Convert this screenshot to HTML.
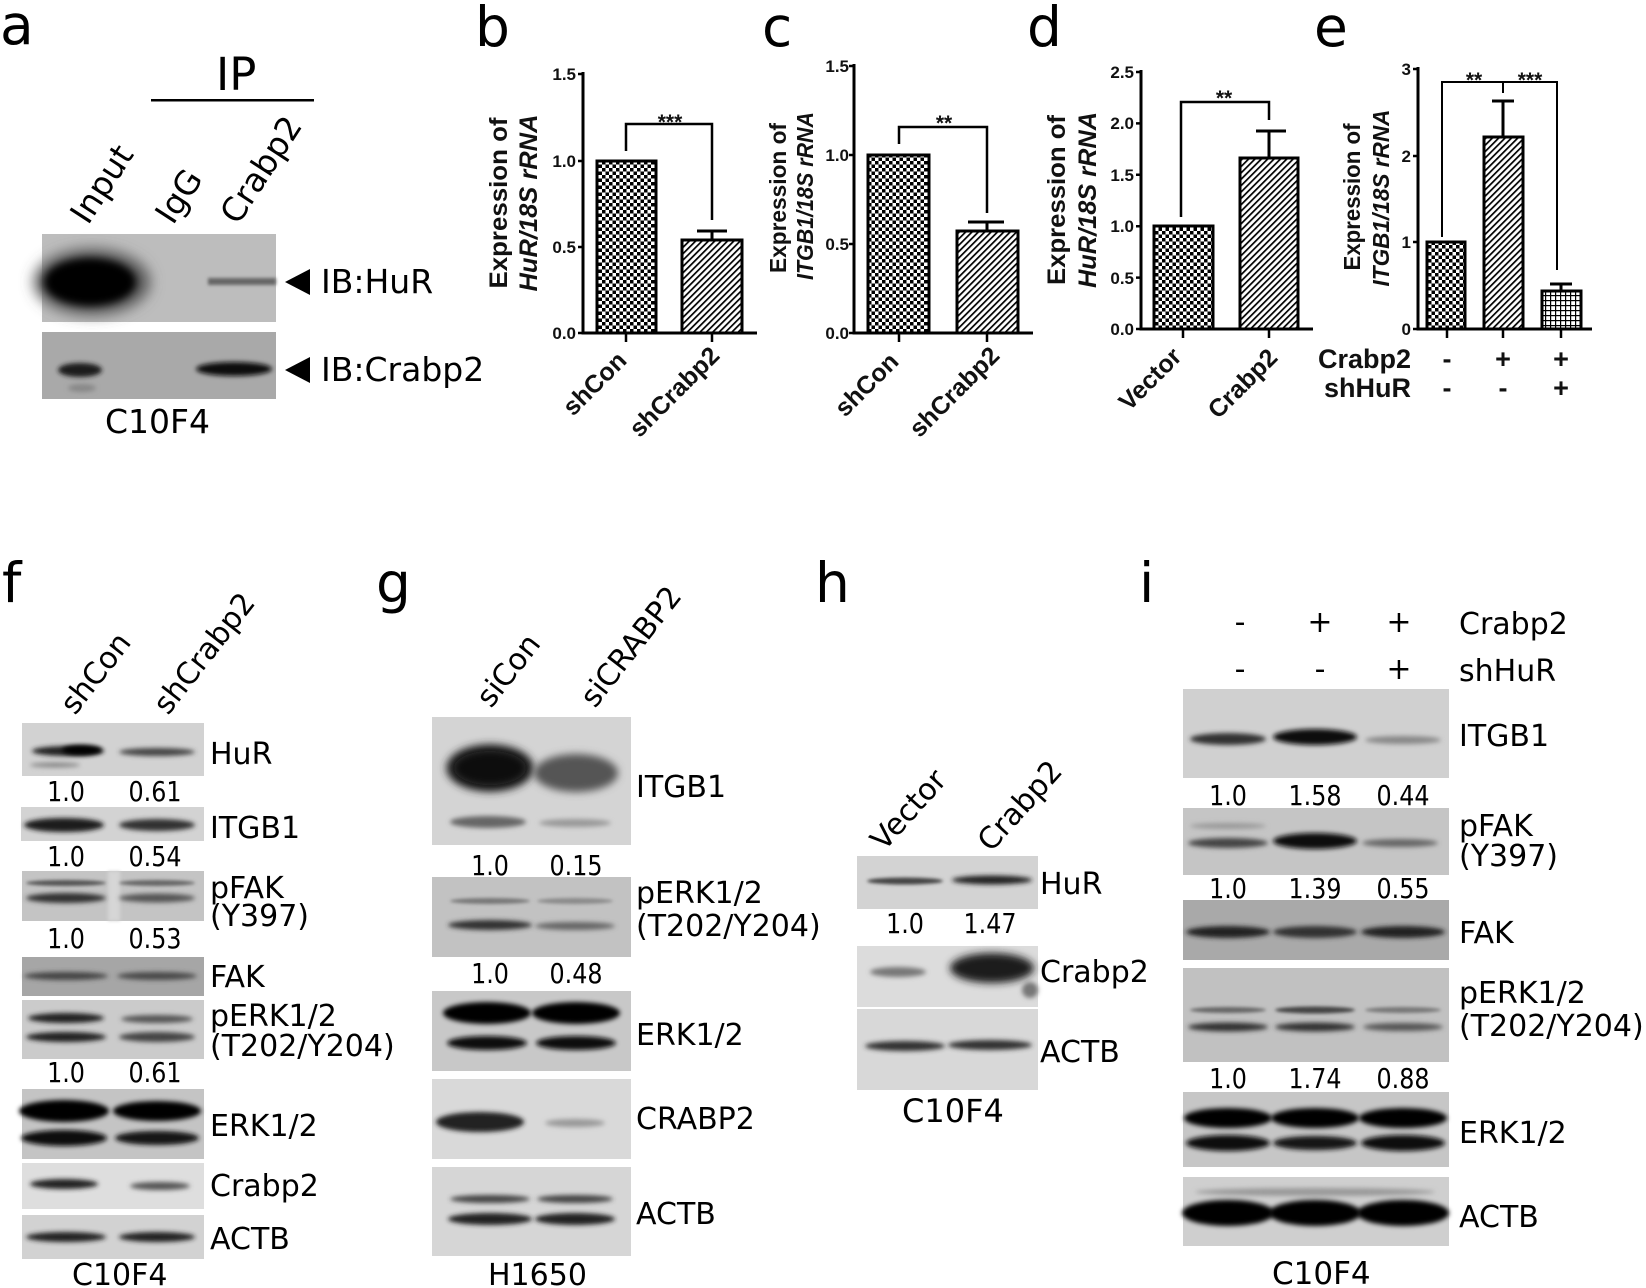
<!DOCTYPE html>
<html><head><meta charset="utf-8"><style>
html,body{margin:0;padding:0;background:#fff;}
svg{display:block;}
.L{font-family:"DejaVu Sans","Liberation Sans",sans-serif;fill:#000;}
.C{font-family:"Liberation Sans",Arial,sans-serif;font-weight:bold;fill:#111;}
</style></head><body>
<svg width="1646" height="1288" viewBox="0 0 1646 1288" xmlns="http://www.w3.org/2000/svg">
<defs>
<pattern id="chk" width="7" height="7" patternUnits="userSpaceOnUse"><rect width="7" height="7" fill="#fff"/><rect width="3.5" height="3.5" fill="#000"/><rect x="3.5" y="3.5" width="3.5" height="3.5" fill="#000"/></pattern>
<pattern id="hat" width="4.5" height="4.5" patternUnits="userSpaceOnUse" patternTransform="rotate(45)"><rect width="4.5" height="4.5" fill="#fff"/><rect width="1.7" height="4.5" fill="#000"/></pattern>
<pattern id="grd" width="5" height="5" patternUnits="userSpaceOnUse"><rect width="5" height="5" fill="#fff"/><rect width="1.2" height="5" fill="#000"/><rect width="5" height="1.2" fill="#000"/></pattern>
<filter id="g1" x="-50%" y="-200%" width="200%" height="500%"><feGaussianBlur stdDeviation="1.5"/></filter>
<filter id="g2" x="-50%" y="-200%" width="200%" height="500%"><feGaussianBlur stdDeviation="2.5"/></filter>
<filter id="g4" x="-50%" y="-100%" width="200%" height="300%"><feGaussianBlur stdDeviation="4"/></filter>
<filter id="g7" x="-50%" y="-100%" width="200%" height="300%"><feGaussianBlur stdDeviation="7"/></filter>
</defs>

<!-- panel letters -->
<g class="L" font-size="55">
<text x="0" y="44">a</text><text x="475" y="46">b</text><text x="762" y="46">c</text><text x="1027" y="46">d</text><text x="1314" y="46">e</text>
<text x="2" y="602">f</text><text x="376" y="602">g</text><text x="815" y="602">h</text><text x="1139" y="602">i</text>
</g>

<!-- ===== panel a ===== -->
<g class="L">
<text x="216" y="90" font-size="45">IP</text>
<rect x="151" y="99" width="163" height="2.5" fill="#000"/>
<text font-size="33" transform="translate(88,226) rotate(-57)">Input</text>
<text font-size="33" transform="translate(173,226) rotate(-57)">IgG</text>
<text font-size="33" transform="translate(238,226) rotate(-57)">Crabp2</text>
</g>
<rect x="42" y="234" width="234" height="88" fill="#bdbdbd"/>
<ellipse cx="92" cy="282" rx="58" ry="33" fill="#555" filter="url(#g7)"/>
<ellipse cx="90" cy="282" rx="46" ry="24" fill="#000" filter="url(#g4)"/>
<rect x="208" y="278" width="68" height="7" fill="#666" filter="url(#g1)"/>
<rect x="42" y="332" width="234" height="67" fill="#a9a9a9"/>
<ellipse cx="80" cy="370" rx="22" ry="7" fill="#1a1a1a" filter="url(#g2)"/>
<ellipse cx="82" cy="388" rx="14" ry="4" fill="#888" filter="url(#g2)"/>
<ellipse cx="234" cy="369" rx="38" ry="7" fill="#0a0a0a" filter="url(#g2)"/>
<polygon points="285,282 310,269 310,295" fill="#000"/>
<polygon points="285,370 310,357 310,383" fill="#000"/>
<g class="L" font-size="33">
<text x="321" y="293">IB:HuR</text>
<text x="321" y="381">IB:Crabp2</text>
<text x="105" y="433">C10F4</text>
</g>

<!-- ===== panel b ===== -->
<g stroke="#000" fill="none">
<rect x="597" y="161" width="59" height="172" fill="url(#chk)" stroke-width="3"/>
<rect x="682" y="240" width="60" height="93" fill="url(#hat)" stroke-width="3"/>
<path d="M712 240V231M697 231H727" stroke-width="3"/>
<path d="M583 72V333H757" stroke-width="3"/>
<path d="M578 74H583M578 161H583M578 247H583M578 333H583M626 333V342M712 333V342" stroke-width="2.5"/>
<path d="M626 151V124H712V220" stroke-width="2.5"/>
</g>
<g class="C" font-size="17" text-anchor="end">
<text x="576" y="80">1.5</text><text x="576" y="167">1.0</text><text x="576" y="253">0.5</text><text x="576" y="339">0.0</text>
</g>
<text class="C" x="670" y="129" font-size="21" font-weight="normal" text-anchor="middle">***</text>
<text class="C" font-size="25" text-anchor="middle" textLength="171" lengthAdjust="spacingAndGlyphs" transform="translate(507,203) rotate(-90)">Expression of</text>
<text class="C" font-size="25" font-style="italic" text-anchor="middle" textLength="177" lengthAdjust="spacingAndGlyphs" transform="translate(537,203) rotate(-90)">HuR/18S rRNA</text>
<text class="C" font-size="25" text-anchor="end" transform="translate(628,362) rotate(-45)">shCon</text>
<text class="C" font-size="25" text-anchor="end" transform="translate(721,357) rotate(-45)">shCrabp2</text>

<!-- ===== panel c ===== -->
<g stroke="#000" fill="none">
<rect x="868" y="155" width="61" height="178" fill="url(#chk)" stroke-width="3"/>
<rect x="957" y="231" width="61" height="102" fill="url(#hat)" stroke-width="3"/>
<path d="M987 231V222M968 222H1004" stroke-width="3"/>
<path d="M854 64V333H1033" stroke-width="3"/>
<path d="M849 66H854M849 155H854M849 244H854M849 333H854M899 333V342M987 333V342" stroke-width="2.5"/>
<path d="M899 144V127H987V213" stroke-width="2.5"/>
</g>
<g class="C" font-size="17" text-anchor="end">
<text x="849" y="72">1.5</text><text x="849" y="161">1.0</text><text x="849" y="250">0.5</text><text x="849" y="339">0.0</text>
</g>
<text class="C" x="944" y="130" font-size="21" font-weight="normal" text-anchor="middle">**</text>
<text class="C" font-size="23" text-anchor="middle" textLength="150" lengthAdjust="spacingAndGlyphs" transform="translate(786,198) rotate(-90)">Expression of</text>
<text class="C" font-size="23" font-style="italic" text-anchor="middle" textLength="168" lengthAdjust="spacingAndGlyphs" transform="translate(813,196) rotate(-90)">ITGB1/18S rRNA</text>
<text class="C" font-size="25" text-anchor="end" transform="translate(900,363) rotate(-45)">shCon</text>
<text class="C" font-size="25" text-anchor="end" transform="translate(1001,357) rotate(-45)">shCrabp2</text>

<!-- ===== panel d ===== -->
<g stroke="#000" fill="none">
<rect x="1154" y="226" width="59" height="103" fill="url(#chk)" stroke-width="3"/>
<rect x="1240" y="158" width="58" height="171" fill="url(#hat)" stroke-width="3"/>
<path d="M1269 158V131M1256 131H1286" stroke-width="3"/>
<path d="M1141 70V329H1313" stroke-width="3"/>
<path d="M1136 72H1141M1136 123.4H1141M1136 174.8H1141M1136 226.2H1141M1136 277.6H1141M1136 329H1141M1183 329V338M1269 329V338" stroke-width="2.5"/>
<path d="M1181 217V102H1269V120" stroke-width="2.5"/>
</g>
<g class="C" font-size="17" text-anchor="end">
<text x="1134" y="78">2.5</text><text x="1134" y="129">2.0</text><text x="1134" y="181">1.5</text><text x="1134" y="232">1.0</text><text x="1134" y="284">0.5</text><text x="1134" y="335">0.0</text>
</g>
<text class="C" x="1224" y="105" font-size="21" font-weight="normal" text-anchor="middle">**</text>
<text class="C" font-size="25" text-anchor="middle" textLength="170" lengthAdjust="spacingAndGlyphs" transform="translate(1065,200) rotate(-90)">Expression of</text>
<text class="C" font-size="25" font-style="italic" text-anchor="middle" textLength="176" lengthAdjust="spacingAndGlyphs" transform="translate(1096,200) rotate(-90)">HuR/18S rRNA</text>
<text class="C" font-size="25" text-anchor="end" transform="translate(1183,358) rotate(-45)">Vector</text>
<text class="C" font-size="25" text-anchor="end" transform="translate(1279,359) rotate(-45)">Crabp2</text>

<!-- ===== panel e ===== -->
<g stroke="#000" fill="none">
<rect x="1427" y="242" width="38" height="87" fill="url(#chk)" stroke-width="3"/>
<rect x="1484" y="137" width="39" height="192" fill="url(#hat)" stroke-width="3"/>
<rect x="1542" y="291" width="39" height="38" fill="url(#grd)" stroke-width="3"/>
<path d="M1503 137V101M1492 101H1514M1561 291V284M1550 284H1572" stroke-width="3"/>
<path d="M1418 67V329H1592" stroke-width="3"/>
<path d="M1413 69H1418M1413 156H1418M1413 242H1418M1413 329H1418M1447 329V338M1503 329V338M1561 329V338" stroke-width="2.5"/>
<path d="M1442 237V82H1557V270M1503 82V93" stroke-width="2"/>
</g>
<g class="C" font-size="17" text-anchor="end">
<text x="1411" y="75">3</text><text x="1411" y="162">2</text><text x="1411" y="248">1</text><text x="1411" y="335">0</text>
</g>
<text class="C" x="1474" y="87" font-size="21" font-weight="normal" text-anchor="middle">**</text>
<text class="C" x="1530" y="87" font-size="21" font-weight="normal" text-anchor="middle">***</text>
<text class="C" font-size="23" text-anchor="middle" textLength="147" lengthAdjust="spacingAndGlyphs" transform="translate(1360,197) rotate(-90)">Expression of</text>
<text class="C" font-size="23" font-style="italic" text-anchor="middle" textLength="177" lengthAdjust="spacingAndGlyphs" transform="translate(1389,198) rotate(-90)">ITGB1/18S rRNA</text>
<g class="C" font-size="27">
<text x="1411" y="368" text-anchor="end">Crabp2</text>
<text x="1411" y="397" text-anchor="end">shHuR</text>
<g text-anchor="middle">
<text x="1447" y="368">-</text><text x="1503" y="368">+</text><text x="1561" y="368">+</text>
<text x="1447" y="397">-</text><text x="1503" y="397">-</text><text x="1561" y="397">+</text>
</g>
</g>

<!-- ===== panel f ===== -->
<g class="L" font-size="30">
<text transform="translate(75,716) rotate(-52)">shCon</text>
<text transform="translate(168,716) rotate(-52)">shCrabp2</text>
</g>
<rect x="22" y="723" width="182" height="53" fill="#d2d2d2"/>
<ellipse cx="68" cy="751" rx="36" ry="5" fill="#222" filter="url(#g2)"/>
<ellipse cx="82" cy="750" rx="20" ry="5" fill="#000" filter="url(#g2)"/>
<ellipse cx="157" cy="752" rx="38" ry="4" fill="#444" filter="url(#g2)"/>
<ellipse cx="55" cy="765" rx="25" ry="2.5" fill="#888" filter="url(#g2)"/>
<rect x="21" y="807" width="183" height="34" fill="#d3d3d3"/>
<ellipse cx="64" cy="825" rx="40" ry="7" fill="#1a1a1a" filter="url(#g2)"/>
<ellipse cx="157" cy="825" rx="38" ry="6" fill="#333" filter="url(#g2)"/>
<rect x="22" y="871" width="182" height="50" fill="#c4c4c4"/>
<rect x="108" y="871" width="12" height="50" fill="#d6d6d6" filter="url(#g1)"/>
<ellipse cx="66" cy="883" rx="40" ry="3" fill="#555" filter="url(#g1)"/>
<ellipse cx="66" cy="898" rx="40" ry="5" fill="#333" filter="url(#g2)"/>
<ellipse cx="157" cy="883" rx="38" ry="3" fill="#666" filter="url(#g1)"/>
<ellipse cx="157" cy="898" rx="38" ry="4.5" fill="#555" filter="url(#g2)"/>
<rect x="22" y="957" width="182" height="39" fill="#a6a6a6"/>
<ellipse cx="66" cy="976" rx="42" ry="4" fill="#444" filter="url(#g2)"/>
<ellipse cx="157" cy="976" rx="40" ry="4" fill="#4a4a4a" filter="url(#g2)"/>
<rect x="22" y="1000" width="182" height="59" fill="#cbcbcb"/>
<ellipse cx="66" cy="1018" rx="38" ry="5" fill="#222" filter="url(#g2)"/>
<ellipse cx="66" cy="1037" rx="40" ry="5" fill="#222" filter="url(#g2)"/>
<ellipse cx="157" cy="1019" rx="36" ry="4" fill="#555" filter="url(#g2)"/>
<ellipse cx="157" cy="1037" rx="38" ry="5" fill="#444" filter="url(#g2)"/>
<rect x="22" y="1089" width="182" height="70" fill="#c4c4c4"/>
<ellipse cx="64" cy="1111" rx="45" ry="11" fill="#000" filter="url(#g2)"/>
<ellipse cx="64" cy="1138" rx="43" ry="8" fill="#111" filter="url(#g2)"/>
<ellipse cx="157" cy="1111" rx="44" ry="10" fill="#000" filter="url(#g2)"/>
<ellipse cx="157" cy="1138" rx="42" ry="7" fill="#151515" filter="url(#g2)"/>
<rect x="22" y="1163" width="182" height="46" fill="#dedede"/>
<ellipse cx="64" cy="1184" rx="34" ry="5" fill="#222" filter="url(#g2)"/>
<ellipse cx="160" cy="1186" rx="30" ry="4" fill="#555" filter="url(#g2)"/>
<rect x="22" y="1215" width="182" height="44" fill="#d2d2d2"/>
<ellipse cx="66" cy="1237" rx="40" ry="5" fill="#222" filter="url(#g2)"/>
<ellipse cx="157" cy="1237" rx="38" ry="5" fill="#222" filter="url(#g2)"/>
<g class="L" font-size="30">
<text x="210" y="764">HuR</text>
<text x="210" y="838">ITGB1</text>
<text x="210" y="898">pFAK</text>
<text x="210" y="926">(Y397)</text>
<text x="210" y="987">FAK</text>
<text x="210" y="1026">pERK1/2</text>
<text x="210" y="1056">(T202/Y204)</text>
<text x="210" y="1136">ERK1/2</text>
<text x="210" y="1196">Crabp2</text>
<text x="210" y="1249">ACTB</text>
<text x="72" y="1285">C10F4</text>
</g>
<g class="L" font-size="28" text-anchor="middle">
<text transform="translate(66,801) scale(0.85,1)">1.0</text><text transform="translate(155,801) scale(0.85,1)">0.61</text>
<text transform="translate(66,866) scale(0.85,1)">1.0</text><text transform="translate(155,866) scale(0.85,1)">0.54</text>
<text transform="translate(66,948) scale(0.85,1)">1.0</text><text transform="translate(155,948) scale(0.85,1)">0.53</text>
<text transform="translate(66,1082) scale(0.85,1)">1.0</text><text transform="translate(155,1082) scale(0.85,1)">0.61</text>
</g>

<!-- ===== panel g ===== -->
<g class="L" font-size="30">
<text transform="translate(491,709) rotate(-52)">siCon</text>
<text transform="translate(595,709) rotate(-52)">siCRABP2</text>
</g>
<rect x="432" y="717" width="199" height="128" fill="#d4d4d4"/>
<ellipse cx="490" cy="768" rx="44" ry="24" fill="#2a2a2a" filter="url(#g4)"/>
<ellipse cx="490" cy="768" rx="36" ry="17" fill="#111" filter="url(#g4)"/>
<ellipse cx="576" cy="773" rx="42" ry="19" fill="#555" filter="url(#g4)"/>
<ellipse cx="488" cy="822" rx="38" ry="6" fill="#666" filter="url(#g2)"/>
<ellipse cx="575" cy="823" rx="36" ry="4" fill="#999" filter="url(#g2)"/>
<rect x="432" y="877" width="199" height="80" fill="#c2c2c2"/>
<ellipse cx="490" cy="901" rx="40" ry="3" fill="#777" filter="url(#g1)"/>
<ellipse cx="575" cy="901" rx="38" ry="3" fill="#8a8a8a" filter="url(#g1)"/>
<ellipse cx="490" cy="925" rx="42" ry="5" fill="#333" filter="url(#g2)"/>
<ellipse cx="575" cy="926" rx="40" ry="4" fill="#666" filter="url(#g2)"/>
<rect x="432" y="991" width="199" height="80" fill="#c8c8c8"/>
<ellipse cx="487" cy="1013" rx="44" ry="11" fill="#000" filter="url(#g2)"/>
<ellipse cx="576" cy="1013" rx="44" ry="11" fill="#000" filter="url(#g2)"/>
<ellipse cx="487" cy="1043" rx="40" ry="7" fill="#111" filter="url(#g2)"/>
<ellipse cx="576" cy="1043" rx="40" ry="7" fill="#111" filter="url(#g2)"/>
<rect x="432" y="1079" width="199" height="80" fill="#d9d9d9"/>
<ellipse cx="480" cy="1122" rx="44" ry="10" fill="#222" filter="url(#g2)"/>
<ellipse cx="575" cy="1123" rx="30" ry="4" fill="#999" filter="url(#g2)"/>
<rect x="432" y="1167" width="199" height="89" fill="#d6d6d6"/>
<ellipse cx="490" cy="1199" rx="40" ry="4" fill="#444" filter="url(#g2)"/>
<ellipse cx="575" cy="1199" rx="38" ry="4" fill="#444" filter="url(#g2)"/>
<ellipse cx="490" cy="1219" rx="42" ry="6" fill="#222" filter="url(#g2)"/>
<ellipse cx="575" cy="1219" rx="40" ry="6" fill="#222" filter="url(#g2)"/>
<g class="L" font-size="30">
<text x="636" y="797">ITGB1</text>
<text x="636" y="903">pERK1/2</text>
<text x="636" y="936">(T202/Y204)</text>
<text x="636" y="1045">ERK1/2</text>
<text x="636" y="1129">CRABP2</text>
<text x="636" y="1224">ACTB</text>
<text x="488" y="1285">H1650</text>
</g>
<g class="L" font-size="28" text-anchor="middle">
<text transform="translate(490,875) scale(0.85,1)">1.0</text><text transform="translate(576,875) scale(0.85,1)">0.15</text>
<text transform="translate(490,983) scale(0.85,1)">1.0</text><text transform="translate(576,983) scale(0.85,1)">0.48</text>
</g>

<!-- ===== panel h ===== -->
<g class="L" font-size="30">
<text transform="translate(884,852) rotate(-48)">Vector</text>
<text transform="translate(991,853) rotate(-48)">Crabp2</text>
</g>
<rect x="857" y="856" width="181" height="53" fill="#d3d3d3"/>
<ellipse cx="905" cy="881" rx="38" ry="3.5" fill="#444" filter="url(#g1)"/>
<ellipse cx="992" cy="880" rx="40" ry="4.5" fill="#222" filter="url(#g2)"/>
<rect x="857" y="946" width="181" height="61" fill="#dcdcdc"/>
<ellipse cx="898" cy="972" rx="28" ry="5" fill="#777" filter="url(#g2)"/>
<ellipse cx="992" cy="968" rx="42" ry="15" fill="#1a1a1a" filter="url(#g4)"/>
<ellipse cx="1030" cy="990" rx="8" ry="8" fill="#777" filter="url(#g2)"/>
<rect x="857" y="1009" width="181" height="81" fill="#d8d8d8"/>
<ellipse cx="905" cy="1046" rx="40" ry="5" fill="#333" filter="url(#g2)"/>
<ellipse cx="990" cy="1045" rx="42" ry="5" fill="#333" filter="url(#g2)"/>
<g class="L" font-size="30">
<text x="1040" y="894">HuR</text>
<text x="1040" y="982">Crabp2</text>
<text x="1040" y="1062">ACTB</text>
<text x="902" y="1122" font-size="32">C10F4</text>
</g>
<g class="L" font-size="28" text-anchor="middle">
<text transform="translate(905,933) scale(0.85,1)">1.0</text><text transform="translate(990,933) scale(0.85,1)">1.47</text>
</g>

<!-- ===== panel i ===== -->
<g class="L" font-size="30" text-anchor="middle">
<text x="1240" y="632">-</text><text x="1320" y="632">+</text><text x="1399" y="632">+</text>
<text x="1240" y="679">-</text><text x="1320" y="679">-</text><text x="1399" y="679">+</text>
</g>
<rect x="1183" y="689" width="266" height="89" fill="#d0d0d0"/>
<ellipse cx="1228" cy="739" rx="38" ry="6" fill="#333" filter="url(#g2)"/>
<ellipse cx="1315" cy="737" rx="42" ry="8" fill="#111" filter="url(#g2)"/>
<ellipse cx="1403" cy="740" rx="38" ry="4" fill="#888" filter="url(#g2)"/>
<rect x="1183" y="808" width="266" height="67" fill="#c5c5c5"/>
<ellipse cx="1228" cy="826" rx="38" ry="3" fill="#999" filter="url(#g2)"/>
<ellipse cx="1228" cy="843" rx="40" ry="5" fill="#444" filter="url(#g2)"/>
<ellipse cx="1315" cy="841" rx="42" ry="8" fill="#111" filter="url(#g2)"/>
<ellipse cx="1400" cy="843" rx="38" ry="4" fill="#666" filter="url(#g2)"/>
<rect x="1183" y="900" width="266" height="60" fill="#a9a9a9"/>
<ellipse cx="1228" cy="932" rx="42" ry="6" fill="#222" filter="url(#g2)"/>
<ellipse cx="1315" cy="932" rx="42" ry="6" fill="#333" filter="url(#g2)"/>
<ellipse cx="1403" cy="932" rx="42" ry="6" fill="#222" filter="url(#g2)"/>
<rect x="1183" y="968" width="266" height="94" fill="#c1c1c1"/>
<ellipse cx="1228" cy="1010" rx="38" ry="3" fill="#666" filter="url(#g1)"/>
<ellipse cx="1315" cy="1010" rx="40" ry="3.5" fill="#444" filter="url(#g1)"/>
<ellipse cx="1403" cy="1010" rx="38" ry="3" fill="#777" filter="url(#g1)"/>
<ellipse cx="1228" cy="1027" rx="40" ry="4.5" fill="#333" filter="url(#g2)"/>
<ellipse cx="1315" cy="1027" rx="40" ry="4.5" fill="#333" filter="url(#g2)"/>
<ellipse cx="1403" cy="1027" rx="40" ry="4" fill="#555" filter="url(#g2)"/>
<rect x="1183" y="1092" width="266" height="75" fill="#c6c6c6"/>
<ellipse cx="1228" cy="1118" rx="44" ry="10" fill="#000" filter="url(#g2)"/>
<ellipse cx="1315" cy="1118" rx="44" ry="10" fill="#000" filter="url(#g2)"/>
<ellipse cx="1403" cy="1118" rx="44" ry="10" fill="#000" filter="url(#g2)"/>
<ellipse cx="1228" cy="1143" rx="42" ry="8" fill="#111" filter="url(#g2)"/>
<ellipse cx="1315" cy="1143" rx="42" ry="7" fill="#151515" filter="url(#g2)"/>
<ellipse cx="1403" cy="1143" rx="42" ry="8" fill="#111" filter="url(#g2)"/>
<rect x="1183" y="1177" width="266" height="69" fill="#cfcfcf"/>
<ellipse cx="1315" cy="1192" rx="120" ry="4" fill="#999" filter="url(#g2)"/>
<ellipse cx="1228" cy="1213" rx="46" ry="13" fill="#000" filter="url(#g2)"/>
<ellipse cx="1315" cy="1213" rx="46" ry="13" fill="#000" filter="url(#g2)"/>
<ellipse cx="1403" cy="1213" rx="46" ry="13" fill="#000" filter="url(#g2)"/>
<g class="L" font-size="30">
<text x="1459" y="634">Crabp2</text>
<text x="1459" y="681">shHuR</text>
<text x="1459" y="746">ITGB1</text>
<text x="1459" y="836">pFAK</text>
<text x="1459" y="866">(Y397)</text>
<text x="1459" y="943">FAK</text>
<text x="1459" y="1003">pERK1/2</text>
<text x="1459" y="1036">(T202/Y204)</text>
<text x="1459" y="1143">ERK1/2</text>
<text x="1459" y="1227">ACTB</text>
<text x="1272" y="1284" font-size="31">C10F4</text>
</g>
<g class="L" font-size="28" text-anchor="middle">
<text transform="translate(1228,805) scale(0.85,1)">1.0</text><text transform="translate(1315,805) scale(0.85,1)">1.58</text><text transform="translate(1403,805) scale(0.85,1)">0.44</text>
<text transform="translate(1228,898) scale(0.85,1)">1.0</text><text transform="translate(1315,898) scale(0.85,1)">1.39</text><text transform="translate(1403,898) scale(0.85,1)">0.55</text>
<text transform="translate(1228,1088) scale(0.85,1)">1.0</text><text transform="translate(1315,1088) scale(0.85,1)">1.74</text><text transform="translate(1403,1088) scale(0.85,1)">0.88</text>
</g>
</svg>
</body></html>
